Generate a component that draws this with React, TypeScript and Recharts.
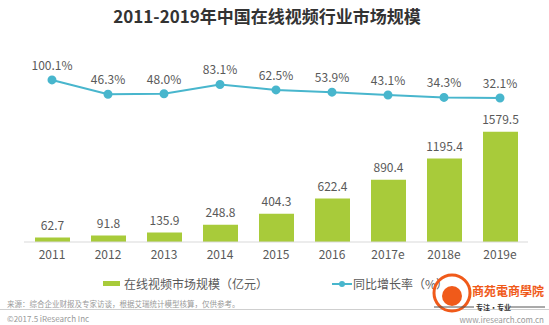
import { ComposedChart, Bar, Line, XAxis, YAxis, LabelList } from 'recharts'

const years = ['2011', '2012', '2013', '2014', '2015', '2016', '2017e', '2018e', '2019e']
const marketSize = [62.7, 91.8, 135.9, 248.8, 404.3, 622.4, 890.4, 1195.4, 1579.5]
const growthRate = [100.1, 46.3, 48.0, 83.1, 62.5, 53.9, 43.1, 34.3, 32.1]

const BAR_COLOR = '#a8cb3a'
const LINE_COLOR = '#48b6cd'
const TEXT = '#595959'
const FONT = '"Noto Sans CJK SC", "Noto Sans", sans-serif'

export default function App() {
  const chartData = years.map((y, i) => ({
    year: y,
    size: marketSize[i],
    rate: growthRate[i],
  }))

  return (
    <div style={{ position: 'absolute', left: 0, top: 0, width: 549, height: 325, background: '#fff', fontFamily: FONT, overflow: 'hidden' }}>
      <div style={{ position: 'absolute', top: 3, left: 0, width: 534, textAlign: 'center', fontSize: 17, fontWeight: 700, color: '#333' }}>
        2011-2019年中国在线视频行业市场规模
      </div>

      <ComposedChart
        width={549}
        height={325}
        data={chartData}
        margin={{ top: 50, right: 21, left: 24, bottom: 53 }}
        style={{ position: 'absolute', left: 0, top: 0 }}
      >
        <XAxis
          dataKey="year"
          axisLine={{ stroke: '#d9d9d9' }}
          tickLine={false}
          tick={{ fill: TEXT, fontSize: 12, fontFamily: FONT }}
          height={30}
        />
        <YAxis yAxisId="bar" hide domain={[0, 2751]} />
        <YAxis yAxisId="line" hide domain={[-511, 213]} orientation="right" />
        <Bar yAxisId="bar" dataKey="size" fill={BAR_COLOR} barSize={35} isAnimationActive={false}>
          <LabelList dataKey="size" position="top" offset={8} fill={TEXT} fontSize={12} fontFamily={FONT} />
        </Bar>
        <Line
          yAxisId="line"
          dataKey="rate"
          stroke={LINE_COLOR}
          strokeWidth={2}
          dot={{ r: 3.5, fill: LINE_COLOR, stroke: LINE_COLOR }}
          isAnimationActive={false}
        >
          <LabelList dataKey="rate" position="top" offset={10} fill={TEXT} fontSize={12} fontFamily={FONT} formatter={(v: any) => `${Number(v).toFixed(1)}%`} />
        </Line>
      </ComposedChart>

      {/* legend */}
      <div style={{ position: 'absolute', top: 275, left: 103, display: 'flex', alignItems: 'center', fontSize: 12, color: TEXT }}>
        <span style={{ display: 'inline-block', width: 17, height: 5, background: BAR_COLOR, marginRight: 4 }} />
        在线视频市场规模（亿元）
      </div>
      <div style={{ position: 'absolute', top: 275, left: 332, display: 'flex', alignItems: 'center', fontSize: 12, color: TEXT }}>
        <svg width={20} height={8} style={{ marginRight: 1 }}>
          <line x1={0} y1={4} x2={20} y2={4} stroke={LINE_COLOR} strokeWidth={2} />
          <circle cx={10} cy={4} r={3} fill={LINE_COLOR} />
        </svg>
        同比增长率（%）
      </div>

      {/* footer */}
      <div style={{ position: 'absolute', top: 298, left: 7, fontSize: 7.5, color: '#999' }}>
        来源：综合企业财报及专家访谈，根据艾瑞统计模型核算，仅供参考。
      </div>
      <div style={{ position: 'absolute', top: 309, left: 0, width: 549, height: 1, background: '#cfcfcf' }} />
      <div style={{ position: 'absolute', top: 313, left: 7, fontSize: 8, color: '#999' }}>
        ©2017.5 iResearch Inc
      </div>
      <div style={{ position: 'absolute', top: 314, right: 5, fontSize: 8, color: '#999' }}>
        www.iresearch.com.cn
      </div>

      {/* watermark */}
      <svg width={549} height={325} style={{ position: 'absolute', left: 0, top: 0 }}>
        <circle cx={452} cy={293} r={18} fill="none" stroke="#f05a1a" strokeWidth={3} />
        <circle cx={452} cy={296} r={10} fill="#f05a1a" />
        <text x={472} y={296} fill="#f05a1a" fontSize={12} fontWeight={700} fontFamily={FONT} textLength={72} lengthAdjust="spacingAndGlyphs" style={{ fontSize: 12 }}>商苑電商學院</text>
        <line x1={434} y1={307} x2={474} y2={307} stroke="#555" strokeWidth={1} />
        <text x={476} y={310} fill="#333" fontSize={7} fontWeight={700} fontFamily={FONT}>专注·专业</text>
        <line x1={510} y1={307} x2={545} y2={307} stroke="#555" strokeWidth={1} />
      </svg>
    </div>
  )
}
